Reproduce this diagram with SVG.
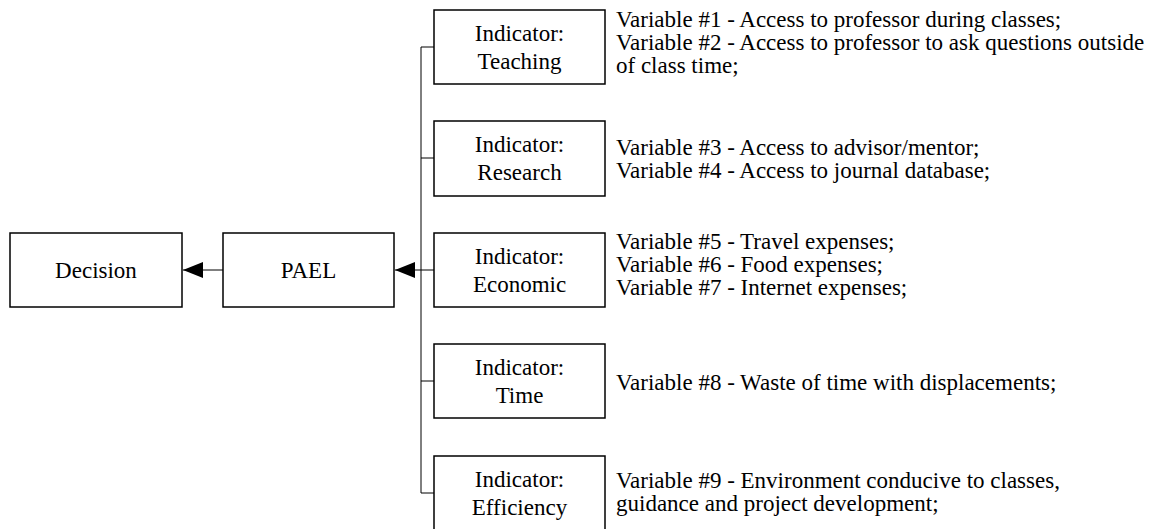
<svg xmlns="http://www.w3.org/2000/svg" width="1173" height="529" viewBox="0 0 1173 529">
  <style>
    .box { fill: #ffffff; stroke: #000000; stroke-width: 1.5; }
    .lbl { font-family: 'Liberation Serif', 'Times New Roman', Times, 'DejaVu Serif', serif; font-size: 23px; fill: #000000; text-anchor: middle; }
    .var { font-family: 'Liberation Serif', 'Times New Roman', Times, 'DejaVu Serif', serif; font-size: 23px; fill: #000000; }
    .conn { fill: none; stroke: #000000; stroke-width: 1; }
  </style>
  <defs>
    <marker id="arrow" viewBox="0 0 20 16" refX="20" refY="8" markerWidth="20" markerHeight="16" markerUnits="userSpaceOnUse" orient="auto">
      <path d="M0,0 L20,8 L0,16 Z" fill="#000000"/>
    </marker>
  </defs>

  <rect width="1173" height="529" fill="#ffffff"/>

  <g id="connectors">
    <line class="conn" x1="421" y1="47" x2="421" y2="493"/>
    <line class="conn" x1="421" y1="47" x2="434" y2="47"/>
    <line class="conn" x1="421" y1="158" x2="434" y2="158"/>
    <line class="conn" x1="421" y1="270" x2="434" y2="270"/>
    <line class="conn" x1="421" y1="381" x2="434" y2="381"/>
    <line class="conn" x1="421" y1="493" x2="434" y2="493"/>
    <line class="conn" x1="421" y1="270" x2="395" y2="270" marker-end="url(#arrow)"/>
    <line class="conn" x1="223" y1="270" x2="183" y2="270" marker-end="url(#arrow)"/>
  </g>

  <g id="decision">
    <rect class="box" x="10" y="233" width="172" height="74"/>
    <text class="lbl" font-family="Liberation Serif, serif" x="96" y="278">Decision</text>
  </g>

  <g id="pael">
    <rect class="box" x="223" y="233" width="171" height="74"/>
    <text class="lbl" font-family="Liberation Serif, serif" x="308.5" y="278">PAEL</text>
  </g>

  <g id="teaching">
    <rect class="box" x="434" y="10" width="171" height="74"/>
    <text class="lbl" font-family="Liberation Serif, serif" x="519.5" y="41">Indicator:</text>
    <text class="lbl" font-family="Liberation Serif, serif" x="519.5" y="69">Teaching</text>
    <text class="var" font-family="Liberation Serif, serif" x="616" y="27">Variable #1 - Access to professor during classes;</text>
    <text class="var" font-family="Liberation Serif, serif" x="616" y="50">Variable #2 - Access to professor to ask questions outside</text>
    <text class="var" font-family="Liberation Serif, serif" x="616" y="73">of class time;</text>
  </g>

  <g id="research">
    <rect class="box" x="434" y="121" width="171" height="75"/>
    <text class="lbl" font-family="Liberation Serif, serif" x="519.5" y="152">Indicator:</text>
    <text class="lbl" font-family="Liberation Serif, serif" x="519.5" y="180">Research</text>
    <text class="var" font-family="Liberation Serif, serif" x="616" y="155">Variable #3 - Access to advisor/mentor;</text>
    <text class="var" font-family="Liberation Serif, serif" x="616" y="178">Variable #4 - Access to journal database;</text>
  </g>

  <g id="economic">
    <rect class="box" x="434" y="233" width="171" height="74"/>
    <text class="lbl" font-family="Liberation Serif, serif" x="519.5" y="264">Indicator:</text>
    <text class="lbl" font-family="Liberation Serif, serif" x="519.5" y="292">Economic</text>
    <text class="var" font-family="Liberation Serif, serif" x="616" y="249">Variable #5 - Travel expenses;</text>
    <text class="var" font-family="Liberation Serif, serif" x="616" y="272">Variable #6 - Food expenses;</text>
    <text class="var" font-family="Liberation Serif, serif" x="616" y="295">Variable #7 - Internet expenses;</text>
  </g>

  <g id="time">
    <rect class="box" x="434" y="344" width="171" height="74"/>
    <text class="lbl" font-family="Liberation Serif, serif" x="519.5" y="375">Indicator:</text>
    <text class="lbl" font-family="Liberation Serif, serif" x="519.5" y="403">Time</text>
    <text class="var" font-family="Liberation Serif, serif" x="616" y="390">Variable #8 - Waste of time with displacements;</text>
  </g>

  <g id="efficiency">
    <rect class="box" x="434" y="456" width="171" height="74"/>
    <text class="lbl" font-family="Liberation Serif, serif" x="519.5" y="487">Indicator:</text>
    <text class="lbl" font-family="Liberation Serif, serif" x="519.5" y="515">Efficiency</text>
    <text class="var" font-family="Liberation Serif, serif" x="616" y="488">Variable #9 - Environment conducive to classes,</text>
    <text class="var" font-family="Liberation Serif, serif" x="616" y="511">guidance and project development;</text>
  </g>
</svg>
